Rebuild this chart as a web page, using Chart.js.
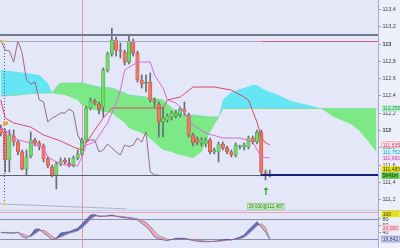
<!DOCTYPE html>
<html>
<head>
<meta charset="utf-8">
<script src="https://cdn.jsdelivr.net/npm/chart.js@4.4.1/dist/chart.umd.min.js"></script>
<style>
  html, body { margin: 0; padding: 0; background: #edf0fa; }
  #wrap { position: relative; width: 400px; height: 248px; overflow: hidden; }
  canvas { position: absolute; left: 0; }
  #main { top: 0; }
  #osc { top: 210px; }
</style>
</head>
<body>
<div id="wrap">
  <canvas id="main" width="400" height="210"></canvas>
  <canvas id="osc" width="400" height="38"></canvas>
</div>
<script>
// candles, one per bar (index = position on the time axis)
const opens = [112.029,111.983,111.659,111.936,111.867,111.752,111.555,111.705,111.890,111.856,
  111.821,111.671,111.578,111.486,111.613,111.659,111.624,111.601,111.682,111.728,
  111.890,112.260,112.341,112.306,112.272,112.699,112.884,113.046,112.931,112.908,
  112.792,113.035,112.896,112.584,112.549,112.561,112.353,112.306,112.098,112.121,
  112.156,112.168,112.179,112.249,112.179,111.948,111.902,111.856,111.844,111.890,
  111.752,111.752,111.844,111.798,111.752,111.717,111.809,111.809,111.809,111.913,
  111.867,111.983,111.520,111.478];
const highs = [112.064,112.017,112.006,112.006,111.890,111.775,111.775,111.983,111.913,111.879,
  111.844,111.694,111.601,111.636,111.682,111.682,111.682,111.705,111.775,111.913,
  112.283,112.376,112.364,112.330,112.723,112.908,113.185,113.081,113.012,112.931,
  113.104,113.058,112.919,112.642,112.642,112.665,112.376,112.330,112.272,112.191,
  112.225,112.237,112.272,112.330,112.202,111.971,111.925,111.913,111.913,111.913,
  111.798,111.867,111.867,111.821,111.775,111.856,111.832,111.856,111.936,111.936,
  112.006,112.006,111.543,111.543];
const lows = [111.936,111.520,111.520,111.821,111.717,111.543,111.486,111.682,111.821,111.775,
  111.636,111.567,111.462,111.324,111.590,111.613,111.578,111.578,111.659,111.705,
  111.879,112.237,112.295,112.191,112.156,112.676,112.861,112.861,112.838,112.757,
  112.769,112.861,112.561,112.491,112.445,112.330,112.272,111.925,111.925,112.098,
  112.121,112.145,112.156,112.179,111.925,111.821,111.832,111.821,111.809,111.728,
  111.728,111.636,111.775,111.728,111.694,111.694,111.786,111.775,111.786,111.844,
  111.844,111.474,111.428,111.462];
const closes = [111.971,111.659,111.948,111.867,111.752,111.555,111.694,111.890,111.856,111.821,
  111.671,111.590,111.486,111.613,111.647,111.636,111.601,111.682,111.728,111.890,
  112.260,112.341,112.318,112.249,112.699,112.884,113.046,112.931,112.919,112.792,
  113.035,112.896,112.584,112.538,112.561,112.353,112.330,112.098,112.145,112.168,
  112.202,112.202,112.249,112.214,111.948,111.856,111.867,111.890,111.890,111.752,
  111.775,111.844,111.798,111.752,111.717,111.832,111.813,111.832,111.913,111.867,
  111.983,111.520,111.486,111.483];

// lagging line (starts at bar 0)
const lagging = [113.046,112.931,112.919,112.792,113.035,112.896,112.584,112.538,112.561,112.353,
  112.330,112.098,112.145,112.168,112.202,112.202,112.249,112.214,111.948,111.856,
  111.867,111.890,111.890,111.752,111.775,111.844,111.798,111.752,111.717,111.832,
  111.813,111.832,111.913,111.867,111.983,111.520,111.486,111.483];

// conversion line (pink) and base line (red)
const tenkanIdx = [0,2,4,7,10,11,13,15,18,19,20,22,25,27,28,29,32,35,36,38,39,41,42,45,48,52,56,59,61,63];
const tenkanVal = [112.029,111.971,111.890,111.856,111.798,111.694,111.636,111.601,111.590,111.694,
  111.832,111.867,112.087,112.318,112.468,112.699,112.792,112.792,112.642,112.491,
  112.353,112.318,112.272,112.064,111.971,111.913,111.913,111.867,111.694,111.682];
const kijunIdx = [0,1,3,7,10,14,17,19,20,22,24,26,38,39,42,45,50,54,57,58,60,61,62,63];
const kijunVal = [112.353,112.145,112.087,112.040,111.948,111.879,111.809,111.775,111.856,112.006,
  112.145,112.260,112.260,112.353,112.387,112.503,112.503,112.468,112.387,112.353,
  112.098,111.925,111.856,111.835];

// cloud, projected 26 bars ahead
const cloudIdx = [0,4,6,9,11,12,13,14,15,18,19,20,23,26,29,30,34,38,40,42,
  45,47,49,51,52,54,59,60,61,63,65,68,70,72,75,78,82,84,86,88];
const spanA = [112.699,112.676,112.665,112.642,112.549,112.434,112.422,112.416,112.410,112.353,
  112.295,112.260,112.225,112.202,112.087,112.029,111.948,111.775,111.752,111.717,
  111.682,111.752,111.983,112.145,112.353,112.445,112.526,112.526,112.491,112.445,
  112.410,112.341,112.318,112.295,112.255,112.156,112.075,111.994,111.879,111.752];
const spanB = [112.399,112.410,112.422,112.434,112.434,112.434,112.503,112.549,112.549,112.549,
  112.549,112.538,112.503,112.491,112.434,112.410,112.387,112.353,112.260,112.179,
  112.179,112.168,112.156,112.156,112.255,112.255,112.255,112.255,112.255,112.255,
  112.255,112.255,112.255,112.255,112.255,112.255,112.255,112.255,112.255,112.255];

// oscillator panel
const oscIdx = [0,3,4,5,6,7,8,9,10,11,12,13,14,16,18,19,20,21,22,23,24,25,26,28,30,32,34,35,36,37,
  39,41,43,45,47,49,51,53,54,56,57,58,59,60,61,62,63];
const oscK = [39,37,41,27,22,32,49,50,38,29,17,23,38,42,52,65,78,92,93.5,87,88,90,92,85,82,77,57.5,44,26,20,
  15,22,22,15,12,12,15,19,17,26,32,47,59,72,56,40,19.842];
const oscD = [40,39,39,36,30,27,36,45,46,39,28,21,26,37,44,53,65,79,88,90,89,88,89,88,85,81,70,58,43,30,
  19,18,20,19,15,12.5,13,16,17.5,21,25,35,47,60,66,54,20.05];
const oscTicks = [40, 60, 80];

// levels and markers
const levelTop = 113.104, levelRed = 113.035, tradePrice = 111.487;
const markBar = 19, splitBar = 61, tradeBar = 62.1;

const X_MIN = -0.2, X_MAX = 88.35;
const FONT = '"Liberation Sans", Arial, sans-serif';
const comma = (v, d) => v.toFixed(d).replace('.', ',');
const pts = (xs, ys) => xs.map((x, i) => ({x: x, y: ys[i]}));
const up = i => closes[i] >= opens[i];

function fixAxis(s) { s.width = 22; s.paddingTop = 0; s.paddingBottom = 0; }

function tag(ctx, y, text, bg, fg, border) {
  const x = 381.5, w = 18, h = 6.5;
  ctx.fillStyle = bg;
  ctx.fillRect(x, y - h / 2, w, h);
  if (border) {
    ctx.strokeStyle = border; ctx.lineWidth = 0.6;
    ctx.strokeRect(x + 0.3, y - h / 2 + 0.3, w - 0.6, h - 0.6);
  }
  ctx.fillStyle = fg;
  ctx.font = '5px ' + FONT;
  ctx.textAlign = 'left'; ctx.textBaseline = 'middle';
  ctx.fillText(text, x + 1.2, y + 0.4);
}

function hline(ctx, x0, x1, y, color, w) {
  ctx.beginPath(); ctx.strokeStyle = color; ctx.lineWidth = w;
  ctx.moveTo(x0, y); ctx.lineTo(x1, y); ctx.stroke();
}

const mainDeco = {
  id: 'mainDeco',
  beforeDraw(chart) {
    const {ctx, chartArea: a} = chart;
    ctx.save();
    ctx.fillStyle = '#e3e7f8';
    ctx.fillRect(a.left, a.top, a.right - a.left, a.bottom - a.top);
    ctx.restore();
  },
  beforeDatasetsDraw(chart) {
    const {ctx, chartArea: a, scales: {x, y}} = chart;
    ctx.save();
    const vx = Math.round(x.getPixelForValue(markBar)) + 0.5;
    ctx.beginPath(); ctx.strokeStyle = 'rgba(226,140,160,0.9)'; ctx.lineWidth = 1;
    ctx.moveTo(vx, a.top); ctx.lineTo(vx, a.bottom); ctx.stroke();
    // trend line at the bottom
    ctx.beginPath(); ctx.strokeStyle = '#9ea4bc'; ctx.lineWidth = 0.8;
    ctx.moveTo(x.getPixelForValue(X_MIN), y.getPixelForValue(111.150));
    ctx.lineTo(x.getPixelForValue(29.5), y.getPixelForValue(111.093)); ctx.stroke();
    ctx.restore();
  },
  afterDatasetsDraw(chart) {
    const {ctx, chartArea: a, scales: {x, y}} = chart;
    ctx.save();
    const sx = x.getPixelForValue(splitBar);
    hline(ctx, a.left, a.right, Math.round(y.getPixelForValue(levelTop)), '#747a8e', 2);
    let yy = Math.round(y.getPixelForValue(levelRed)) + 0.5;
    hline(ctx, a.left, sx, yy, '#a4a6b8', 1);
    hline(ctx, sx, a.right, yy, '#d0607a', 1);
    yy = Math.round(y.getPixelForValue(tradePrice)) + 0.5;
    hline(ctx, a.left, sx, yy, '#5c6070', 1);
    hline(ctx, sx, a.right, yy - 0.5, '#16207e', 2);
    // dotted marker line
    const dx = Math.round(x.getPixelForValue(0.7)) + 0.5;
    ctx.beginPath(); ctx.setLineDash([1, 2]); ctx.strokeStyle = '#4a5896'; ctx.lineWidth = 1;
    ctx.moveTo(dx, y.getPixelForValue(levelRed)); ctx.lineTo(dx, y.getPixelForValue(111.150)); ctx.stroke();
    ctx.setLineDash([]);
    ctx.fillStyle = '#f2d23c';
    ctx.beginPath(); ctx.arc(dx, y.getPixelForValue(levelRed), 1.6, 0, Math.PI * 2); ctx.fill();
    ctx.beginPath(); ctx.arc(dx, y.getPixelForValue(111.150), 1.5, 0, Math.PI * 2); ctx.fill();
    ctx.fillStyle = '#f0a828';
    ctx.fillRect(x.getPixelForValue(0.5), y.getPixelForValue(112.087) - 1.5, 5, 3.5);
    // trade arrow and label
    const ax = x.getPixelForValue(tradeBar);
    const ay0 = y.getPixelForValue(111.254), ay1 = y.getPixelForValue(111.347);
    ctx.strokeStyle = '#3aa83a'; ctx.lineWidth = 1.4;
    ctx.beginPath(); ctx.moveTo(ax, ay0); ctx.lineTo(ax, ay1 + 2); ctx.stroke();
    ctx.fillStyle = '#3aa83a';
    ctx.beginPath(); ctx.moveTo(ax - 2.5, ay1 + 3); ctx.lineTo(ax + 2.5, ay1 + 3); ctx.lineTo(ax, ay1); ctx.fill();
    const ly = y.getPixelForValue(111.127);
    ctx.fillStyle = '#cdf2c4'; ctx.fillRect(ax - 18.5, ly - 3, 37, 6.5);
    ctx.strokeStyle = '#72c068'; ctx.lineWidth = 0.6; ctx.strokeRect(ax - 18.2, ly - 2.7, 36.4, 5.9);
    ctx.fillStyle = '#2b6a22'; ctx.font = '4.6px ' + FONT;
    ctx.textAlign = 'center'; ctx.textBaseline = 'middle';
    ctx.fillText('29 000@' + comma(tradePrice, 3), ax, ly + 0.4);
    ctx.restore();
  },
  afterDraw(chart) {
    const {ctx, scales: {y}} = chart;
    ctx.save();
    tag(ctx, y.getPixelForValue(spanB[spanB.length - 1]), comma(spanB[spanB.length - 1], 3), '#b6efcf', '#2e9a5a');
    tag(ctx, y.getPixelForValue(kijunVal[kijunVal.length - 1]), comma(kijunVal[kijunVal.length - 1], 3), '#fbe7eb', '#d04a64', '#e48a9a');
    tag(ctx, y.getPixelForValue(spanA[spanA.length - 1]), comma(spanA[spanA.length - 1], 3), '#cff3f8', '#2aa6c4');
    tag(ctx, y.getPixelForValue(tenkanVal[tenkanVal.length - 1]), comma(tenkanVal[tenkanVal.length - 1], 3), '#f5dcf3', '#c04cc0');
    const last = closes[closes.length - 1];
    tag(ctx, y.getPixelForValue(last) - 6, comma(last, 3), '#e6df1c', '#3a3a20');
    tag(ctx, y.getPixelForValue(last) + 0.5, '5h41m', '#5cc04a', '#163410');
    ctx.restore();
  }
};

new Chart(document.getElementById('main'), {
  type: 'bar',
  data: {
    datasets: [
      { type: 'line', data: pts(cloudIdx, spanB), borderColor: '#74dca0', borderWidth: 0.8,
        pointRadius: 0, fill: false, order: 20 },
      { type: 'line', data: pts(cloudIdx, spanA), borderColor: 'rgba(0,0,0,0)', borderWidth: 0,
        pointRadius: 0, fill: {target: 0, above: '#66e6f4', below: '#7de886'}, order: 21 },
      { data: closes.map((c, i) => ({x: i, y: [lows[i], highs[i]]})), grouped: false,
        barThickness: 1, backgroundColor: '#6a6a76', order: 6 },
      { data: closes.map((c, i) => ({x: i, y: [opens[i], c]})), grouped: false,
        barThickness: 3.4, minBarLength: 1, borderWidth: 0.6, borderSkipped: false,
        backgroundColor: c => up(c.dataIndex) ? '#74d86a' : '#ee7866',
        borderColor: c => up(c.dataIndex) ? '#38923a' : '#b8443a', order: 5 },
      { type: 'line', data: lagging.map((v, i) => ({x: i, y: v})), borderColor: '#925e78',
        borderWidth: 0.9, pointRadius: 0, order: 3 },
      { type: 'line', data: pts(kijunIdx, kijunVal), borderColor: '#dc4a66',
        borderWidth: 1, pointRadius: 0, order: 2 },
      { type: 'line', data: pts(tenkanIdx, tenkanVal), borderColor: '#dc6ad4',
        borderWidth: 1, pointRadius: 0, order: 1 }
    ]
  },
  options: {
    responsive: false, animation: false, events: [],
    layout: { padding: 0 },
    plugins: { legend: { display: false }, tooltip: { enabled: false } },
    scales: {
      x: { type: 'linear', min: X_MIN, max: X_MAX, offset: false, display: false },
      y: {
        position: 'right', min: 111.08, max: 113.51,
        afterFit: fixAxis,
        grid: { drawOnChartArea: false, tickLength: 3, color: '#9ca2b8' },
        border: { color: '#a6abc0' },
        ticks: {
          stepSize: 0.2, includeBounds: false, padding: 1.5, color: '#3c3c48',
          font: c => ({ family: FONT, size: 5.5,
            weight: c.tick && Math.abs(c.tick.value - Math.round(c.tick.value)) < 1e-6 ? 'bold' : 'normal' }),
          callback: v => {
            const r = Math.round(v * 10) / 10;
            return Math.abs(r - Math.round(r)) < 1e-6 ? String(Math.round(r)) : comma(r, 1);
          }
        }
      }
    }
  },
  plugins: [mainDeco]
});

const oscDeco = {
  id: 'oscDeco',
  beforeDraw(chart) {
    const {ctx, chartArea: a} = chart;
    ctx.save();
    ctx.fillStyle = '#e3e7f8';
    ctx.fillRect(a.left, a.top, a.right - a.left, a.bottom - a.top);
    hline(ctx, 0, 400, 0.5, '#c8cce0', 1);
    ctx.restore();
  },
  beforeDatasetsDraw(chart) {
    const {ctx, chartArea: a, scales: {x, y}} = chart;
    ctx.save();
    hline(ctx, a.left, a.right, Math.round(y.getPixelForValue(100)) + 0.5, '#e6a6b6', 1);
    hline(ctx, a.left, a.right, Math.round(y.getPixelForValue(80)) + 0.5, '#8a90aa', 1);
    hline(ctx, a.left, a.right, Math.round(y.getPixelForValue(20)) + 0.5, '#8a90aa', 1);
    const vx = Math.round(x.getPixelForValue(markBar)) + 0.5;
    ctx.beginPath(); ctx.strokeStyle = 'rgba(226,140,160,0.9)'; ctx.lineWidth = 1;
    ctx.moveTo(vx, a.top); ctx.lineTo(vx, a.bottom); ctx.stroke();
    ctx.restore();
  },
  afterDraw(chart) {
    const {ctx, scales: {y}} = chart;
    ctx.save();
    tag(ctx, y.getPixelForValue(100) + 1.5, '100', '#e6df1c', '#3a3a20');
    tag(ctx, y.getPixelForValue(oscD[oscD.length - 1]) - 11, comma(oscD[oscD.length - 1], 3), '#f6d4dc', '#c8587a');
    tag(ctx, y.getPixelForValue(oscK[oscK.length - 1]), comma(oscK[oscK.length - 1], 3), '#d6daf2', '#2a3470', '#6a72b0');
    ctx.restore();
  }
};

new Chart(document.getElementById('osc'), {
  type: 'line',
  data: {
    datasets: [
      { data: pts(oscIdx, oscD), borderColor: '#a06078', borderWidth: 0.6, pointRadius: 0, fill: false },
      { data: pts(oscIdx, oscK), borderColor: '#343c80', borderWidth: 0.6, pointRadius: 0,
        fill: { target: 0, above: '#6470c0', below: '#eeacb8' } }
    ]
  },
  options: {
    responsive: false, animation: false, events: [],
    layout: { padding: 0 },
    plugins: { legend: { display: false }, tooltip: { enabled: false } },
    scales: {
      x: { type: 'linear', min: X_MIN, max: X_MAX, offset: false, display: false },
      y: {
        position: 'right', min: -7, max: 107,
        afterFit: fixAxis,
        afterBuildTicks: s => { s.ticks = oscTicks.map(v => ({value: v})); },
        grid: { drawOnChartArea: false, tickLength: 3, color: '#9ca2b8' },
        border: { color: '#a6abc0' },
        ticks: { padding: 1.5, color: '#3c3c48', font: { family: FONT, size: 5.5 } }
      }
    }
  },
  plugins: [oscDeco]
});
</script>
</body>
</html>
